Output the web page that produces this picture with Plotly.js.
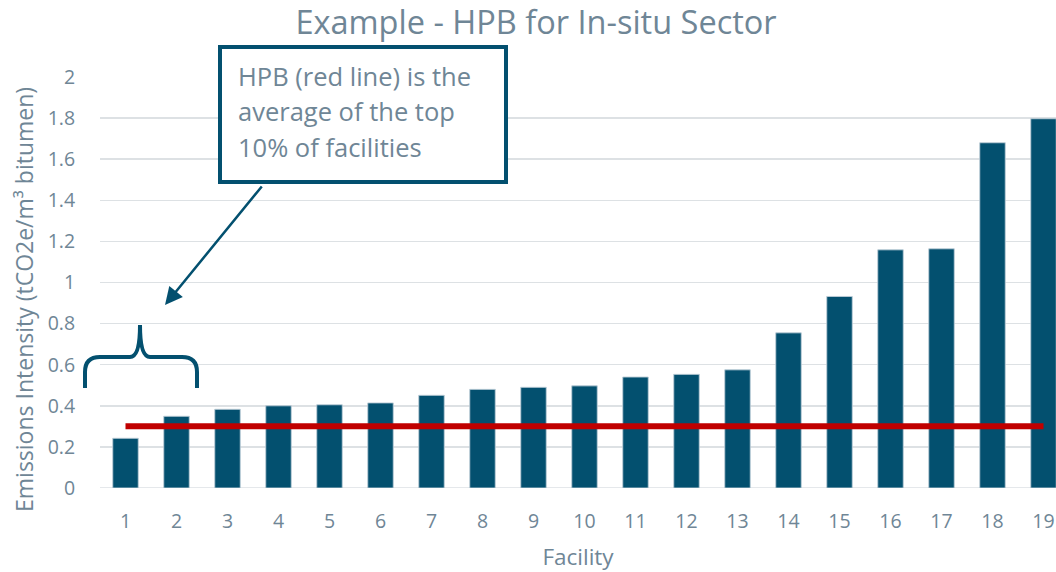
<!DOCTYPE html>
<html>
<head>
<meta charset="utf-8">
<script src="https://cdn.plot.ly/plotly-3.0.1.min.js"></script>
<style>html,body{margin:0;padding:0;background:#fff;}#chart{width:1056px;height:572px;}</style>
</head>
<body>
<div id="chart"></div>
<script>
// Data
const facilities = [1,2,3,4,5,6,7,8,9,10,11,12,13,14,15,16,17,18,19];
const intensity = [0.242,0.349,0.383,0.400,0.405,0.414,0.451,0.480,0.490,0.497,0.540,0.553,0.575,0.755,0.932,1.159,1.164,1.680,1.797];
const hpbValue = 0.3;
const yTicks = [0,0.2,0.4,0.6,0.8,1,1.2,1.4,1.6,1.8,2];
const titleText = "Example - HPB for In-situ Sector";
const xTitle = "Facility";
const yTitle = "Emissions Intensity (tCO2e/m³ bitumen)";
const noteLines = ["HPB (red line) is the", "average of the top", "10% of facilities"];

const FONT = "'Open Sans', sans-serif";
const TXT = "#6F8696";
const DARK = "#03506F";

// layout geometry (pixels)
const W = 1056, H = 572, ML = 100, MR = 0, MT = 77, MB = 84;
const PW = W - ML - MR, PH = H - MT - MB;
const px = v => (v - ML) / PW;
const py = v => (H - MB - v) / PH;

const bars = {
  type: 'bar', x: facilities, y: intensity, width: 0.5,
  marker: {color: DARK, line: {color: 'rgba(190,205,215,0.9)', width: 1}},
  hoverinfo: 'x+y', showlegend: false
};
const hpb = {
  type: 'scatter', mode: 'lines',
  x: [facilities[0], facilities[facilities.length - 1]],
  y: [hpbValue, hpbValue],
  line: {color: '#C00000', width: 6},
  showlegend: false
};

const brace = `M ${px(85)},${py(388)} L ${px(85)},${py(372)} Q ${px(85)},${py(357)} ${px(100)},${py(357)} L ${px(130)},${py(357)} Q ${px(140)},${py(357)} ${px(140)},${py(325)} Q ${px(140)},${py(357)} ${px(150)},${py(357)} L ${px(182)},${py(357)} Q ${px(197)},${py(357)} ${px(197)},${py(372)} L ${px(197)},${py(388)}`;

const lineCenters = [76, 111.5, 147];
const annotations = noteLines.map((t, i) => ({
  xref: 'paper', yref: 'paper', x: px(236), y: py(lineCenters[i]),
  xanchor: 'left', yanchor: 'middle', text: t, showarrow: false,
  font: {family: FONT, size: 25.5, color: TXT}
}));
annotations.push({
  xref: 'paper', yref: 'paper', x: px(165), y: py(305),
  ax: 98, ay: -120, text: '', showarrow: true,
  arrowhead: 2, arrowsize: 1.4, arrowwidth: 2.5, arrowcolor: DARK
});
// y-axis title
annotations.push({
  xref: 'paper', yref: 'paper', x: px(24), y: py(300),
  xanchor: 'center', yanchor: 'middle', textangle: -90,
  text: yTitle, showarrow: false,
  font: {family: FONT, size: 23, color: TXT}
});

const layout = {
  width: W, height: H,
  margin: {l: ML, r: MR, t: MT, b: MB},
  paper_bgcolor: '#fff', plot_bgcolor: '#fff',
  font: {family: FONT, color: TXT},
  title: {text: titleText, font: {family: FONT, size: 32.5, color: TXT},
          xref: 'container', x: 0.5076, xanchor: 'center', yref: 'container', y: 0.96, yanchor: 'middle'},
  xaxis: {
    range: [0.5, 0.5 + PW / 51], tickmode: 'array', tickvals: facilities,
    ticktext: facilities.map(String),
    ticks: 'outside', ticklen: 16, tickcolor: 'rgba(0,0,0,0)',
    tickfont: {family: FONT, size: 19.5, color: TXT},
    showgrid: false, zeroline: false, showline: false,
    title: {text: xTitle, font: {family: FONT, size: 22.5, color: TXT}, standoff: 18}
  },
  yaxis: {
    range: [0, 2], tickmode: 'array', tickvals: yTicks,
    ticktext: yTicks.map(String),
    ticks: 'outside', ticklen: 20, tickcolor: 'rgba(0,0,0,0)',
    tickfont: {family: FONT, size: 19.5, color: TXT},
    showgrid: true, gridcolor: '#DDE1E4', gridwidth: 1.5,
    zeroline: false, showline: false
  },
  shapes: [
    {type: 'line', xref: 'paper', yref: 'y', x0: 0, x1: 1, y0: 0, y1: 0, line: {color: '#DDE1E4', width: 1.5}, layer: 'below'},
    {type: 'rect', xref: 'paper', yref: 'paper', x0: px(220), x1: px(506), y0: py(47), y1: py(182),
     line: {color: DARK, width: 4}, fillcolor: '#ffffff', layer: 'above'},
    {type: 'path', xref: 'paper', yref: 'paper', path: brace, line: {color: DARK, width: 4}, layer: 'above'}
  ],
  annotations: annotations,
  bargap: 0.5
};

Plotly.newPlot('chart', [bars, hpb], layout, {displayModeBar: false, staticPlot: true});
</script>
</body>
</html>
